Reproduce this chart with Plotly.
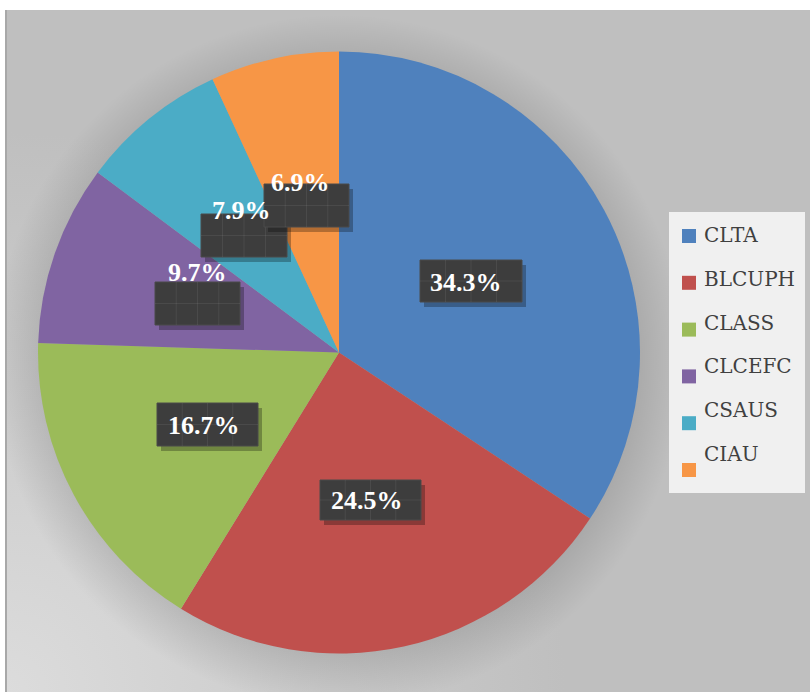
import base64
import plotly.graph_objects as go

# ---- data ----
labels = ["CLTA", "BLCUPH", "CLASS", "CLCEFC", "CSAUS", "CIAU"]
values = [34.3, 24.5, 16.7, 9.7, 7.9, 6.9]
colors = ["#4f81bd", "#c0504d", "#9bbb59", "#8064a2", "#4bacc6", "#f79646"]

W, H = 810, 692


def px(x):
    return x / W


def py(y):
    return 1 - y / H


# ---- background (gradient + pie shadow) as inline svg ----
cx, cy, R = 339, 352.5, 301
bx0, by0 = 5, 10
svg = f"""<svg xmlns='http://www.w3.org/2000/svg' width='{W-bx0}' height='{H-by0}' viewBox='0 0 {W-bx0} {H-by0}'>
<defs>
<radialGradient id='g' gradientUnits='userSpaceOnUse' cx='0' cy='{H-by0}' r='560'>
<stop offset='0' stop-color='#dcdcdc'/><stop offset='1' stop-color='#bfbfbf'/></radialGradient>
<radialGradient id='s' gradientUnits='userSpaceOnUse' cx='{cx-bx0}' cy='{cy-by0+8}' r='{R+45}'>
<stop offset='0.80' stop-color='#000' stop-opacity='0.16'/><stop offset='1' stop-color='#000' stop-opacity='0'/></radialGradient>
</defs>
<rect x='0' y='0' width='{W-bx0}' height='{H-by0}' fill='url(#g)'/>
<circle cx='{cx-bx0}' cy='{cy-by0+8}' r='{R+45}' fill='url(#s)'/>
<line x1='1' y1='0' x2='1' y2='{H-by0}' stroke='#a8a8a8' stroke-width='2'/>
</svg>"""
src = "data:image/svg+xml;base64," + base64.b64encode(svg.encode()).decode()

fig = go.Figure()
fig.add_trace(go.Pie(
    labels=labels, values=values, sort=False, direction="clockwise", rotation=0,
    marker=dict(colors=colors, line=dict(width=0)),
    textinfo="none", hoverinfo="label+percent", showlegend=False,
    domain=dict(x=[px(cx - R), px(cx + R)], y=[py(cy + R), py(cy - R)]),
))

shapes = []
annotations = []

# ---- data label boxes (pixel layout) ----
boxes = [(420, 260, 522, 302), (320, 480, 421, 520), (157, 403, 258, 446),
         (155, 282, 240, 325), (201, 214, 287, 257), (264, 184, 349, 227)]
text_pos = [(466, 282), (367, 500), (204, 425), (197, 272), (241, 210), (300, 182)]
for (x0, y0, x1, y1) in boxes:
    shapes.append(dict(type="rect", xref="paper", yref="paper",
                       x0=px(x0 + 4), x1=px(x1 + 4), y0=py(y1 + 5), y1=py(y0 + 5),
                       fillcolor="rgba(0,0,0,0.28)", line=dict(width=0), layer="above"))
    shapes.append(dict(type="rect", xref="paper", yref="paper",
                       x0=px(x0), x1=px(x1), y0=py(y1), y1=py(y0),
                       fillcolor="#3d3d3d", line=dict(color="#4a4a4a", width=1), layer="above"))
    # subtle grid texture
    n = 4
    for k in range(1, n):
        gx = x0 + (x1 - x0) * k / n
        shapes.append(dict(type="line", xref="paper", yref="paper",
                           x0=px(gx), x1=px(gx), y0=py(y1), y1=py(y0),
                           line=dict(color="rgba(255,255,255,0.07)", width=1), layer="above"))
    gy = (y0 + y1) / 2
    shapes.append(dict(type="line", xref="paper", yref="paper",
                       x0=px(x0), x1=px(x1), y0=py(gy), y1=py(gy),
                       line=dict(color="rgba(255,255,255,0.07)", width=1), layer="above"))
for (tx, ty), v in zip(text_pos, values):
    annotations.append(dict(xref="paper", yref="paper", x=px(tx), y=py(ty),
                            text=f"<b>{v:.1f}%</b>", showarrow=False,
                            font=dict(family="Liberation Serif", size=26, color="white"),
                            xanchor="center", yanchor="middle"))

# ---- legend (manual) ----
shapes.append(dict(type="rect", xref="paper", yref="paper",
                   x0=px(669), x1=px(805), y0=py(493), y1=py(212),
                   fillcolor="#f0f0f0", line=dict(width=0), layer="above"))
for i, (lab, col) in enumerate(zip(labels, colors)):
    sy = 236 + 46.8 * i
    ty = 235 + 43.8 * i
    shapes.append(dict(type="rect", xref="paper", yref="paper",
                       x0=px(682), x1=px(696), y0=py(sy + 7), y1=py(sy - 7),
                       fillcolor=col, line=dict(width=0), layer="above"))
    annotations.append(dict(xref="paper", yref="paper", x=px(702), y=py(ty),
                            text=lab, showarrow=False, xanchor="left", yanchor="middle",
                            font=dict(family="DejaVu Serif", size=20, color="#404040")))

fig.update_layout(
    width=W, height=H, autosize=False,
    margin=dict(l=0, r=0, t=0, b=0),
    paper_bgcolor="white", plot_bgcolor="white",
    images=[dict(source=src, xref="paper", yref="paper", x=px(bx0), y=py(by0),
                 sizex=px(W) - px(bx0), sizey=py(by0), xanchor="left", yanchor="top",
                 sizing="stretch", layer="below")],
    shapes=shapes, annotations=annotations,
)

fig.write_html("out.html", config={"displayModeBar": False},
               post_script="document.body.style.margin='0';document.body.style.overflow='hidden';")
